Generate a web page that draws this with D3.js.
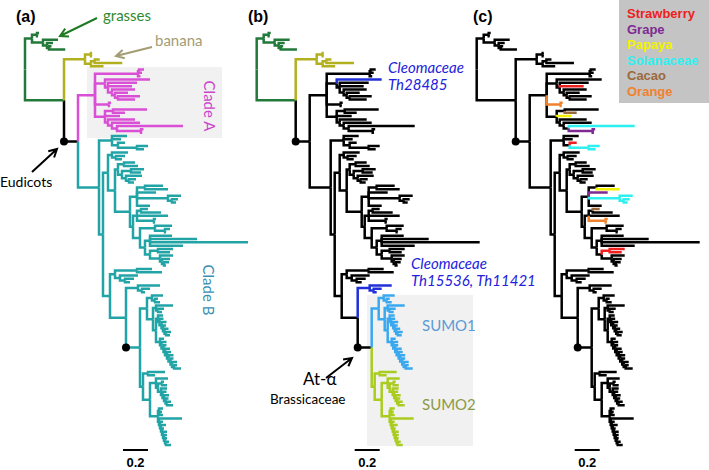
<!DOCTYPE html>
<html><head><meta charset="utf-8">
<script src="https://cdn.jsdelivr.net/npm/d3@7"></script>
<style>body{margin:0;background:#fff} svg{display:block}</style>
</head><body>
<svg id="chart" width="709" height="470"></svg>
<script>
// ---------- DATA (branch lengths in substitutions/site) ----------
const grasses = "((g1:0.016,g2:0.008):0.04,(g3:0.12,(g4:0.048,(g5:0.02,g6:0.13):0.016):0.032):0.088)";
const banana  = "((b1:0.008,b2:0.008):0.048,((b3:0.04,b4:0.22):0.03,b5:0.1):0.048)";
const cladeA  = "(((a1:0.04,a2:0.024):0.008,a3:0.02):0.344,(C28485:0.36,(a5:0.232,STR:0.192,(a7:0.184,(a8:0.104,(a9:0.176,a10:0.136):0.024):0.024):0.032):0.024):0.08,(a11:0.016,a12:0.008)ORA:0.112,((a13:0.272,CAC:0.096):0.064,PAP:0.12,(a16:0.216,(a17:0.224,(SOL:0.528,(a19:0.02,a20:0.01)GRP:0.192):0.04):0.032):0.024):0.08)";
const bTop    = "(c1:0.12,c2:0.072,(STR:0.056,(c4:0.088,c5:0.056)SOL:0.152):0.048)";
const bU1     = "(u1:0.128,(u2:0.072,u3:0.048):0.032)";
const bU2a    = "((u4:0.088,u5:0.112):0.048,((u6:0.104,u7:0.08):0.072,(u8:0.128,(u9:0.056,u10:0.04):0.024):0.032):0.032)";
const bU3a    = "((u11:0.144,PAP:0.184):0.064,GRP:0.152,(u12:0.104,(u13:0.048,u14:0.032):0.032)SOL:0.248,u15:0.104)";
const bV1     = "((CAC:0.056,u17:0.16):0.032,u18:0.248,(u19:0.016,u20:0.008)ORA:0.136)";
const bV2a    = "(u21:0.136,(u22:0.04,u23:0.008):0.08)";
const bV3a    = "(u24:0.176,u25:0.376,u26:0.784,u27:0.264)";
const bV3b    = "((u28:0.12,u29:0.096)STR:0.064,(u30:0.104,(u31:0.064,(u32:0.04,u33:0.016):0.016):0.016):0.08)";
const bFtop   = "((f1:0.12,f2:0.2):0.176,(f3:0.144,(f4:0.072,f5:0.04):0.04):0.04)";
const cleo    = "(k1:0.176,(k2:0.064,k3:0.024):0.032)";
const sumo1a  = "(s1:0.088,(s2:0.024,s3:0.04):0.024)";
const sumo1x  = "(s4:0.136,(s5:0.048,s6:0.032):0.016)";
const sumo1y1 = "(s7:0.04,(s8:0.032,(s9:0.04,(s10:0.024,(s11:0.032,(s12:0.04,s13:0.032):0.012):0.012):0.012):0.016):0.012)";
const sumo1y2 = "(s14:0.032,(s15:0.04,(s16:0.024,(s17:0.04,(s18:0.032,(s19:0.04,(s20:0.024,(s21:0.04,(s22:0.024,s23:0.056):0.016):0.012):0.016):0.012):0.016):0.012):0.016):0.012)";
const sumo2a  = "(t1:0.136,t2:0.056)";
const sumo2c  = "(t3:0.096,((t4:0.016,t5:0.04):0.032,(t6:0.048,(t7:0.032,(t8:0.04,(t9:0.024,(t10:0.032,t11:0.048):0.012):0.012):0.012):0.012):0.024):0.016)";
const sumo2d  = "((t12:0.032,(t13:0.016,t14:0.024):0.008):0.008,(t15:0.184,(t16:0.024,(t17:0.04,(t18:0.016,(t19:0.032,(t20:0.024,(t21:0.016,(t22:0.024,t23:0.04):0.008):0.008):0.008):0.008):0.008):0.008):0.008):0.008)";

const legendNames  = ["Strawberry","Grape","Papaya","Solanaceae","Cacao","Orange"];
const legendTags   = ["STR","GRP","PAP","SOL","CAC","ORA"];
const legendColors = ["#ee2020","#7f2a92","#f2f200","#2ef0f0","#9a6a3c","#f0822e"];
const scaleBarValue = 0.2;

// ---------- assemble tree ----------
const bU = `(${bU1}:0.032,(${bU2a}:0.024,(${bU3a}:0.056,(${bV1}:0.032,(${bV2a}:0.12,(${bV3a}:0.04,${bV3b}:0.04):0.04):0.056):0.024):0.12):0.056)`;
const sumo1 = `(${sumo1a}:0.04,(${sumo1x}:0.024,(${sumo1y1}:0.016,${sumo1y2}:0.032):0.024):0.048)`;
const sumo2 = `(${sumo2a}:0.04,(${sumo2c}:0.048,${sumo2d}:0.064):0.056)`;
const newick = `(${grasses}GRASSES:0.056,(${banana}BANANA:0.168,(${cladeA}CLADEA:0.136,(${bTop}:0.104,(${bU}:0.04,(${bFtop}:0.04,(${cleo}CLEO:0.096,(${sumo1}SUMO1:0.056,${sumo2}SUMO2:0.024)H:0.112)G:0.128)F:0.056)D:0.032)CLADEB:0.168)E:0.112)R2:0.312)ROOT`;

function parseNewick(str) {
  const s = str.replace(/\s+/g, "");
  let i = 0;
  function node() {
    const n = {name: "", length: 0};
    if (s[i] === "(") {
      i++; n.children = [];
      for (;;) {
        n.children.push(node());
        if (s[i] === ",") { i++; continue; }
        if (s[i] === ")") { i++; break; }
        throw new Error("bad newick at " + i);
      }
    }
    let name = "";
    while (i < s.length && !",():;".includes(s[i])) name += s[i++];
    n.name = name;
    if (s[i] === ":") { i++; let num = ""; while (i < s.length && !",();".includes(s[i])) num += s[i++]; n.length = +num; }
    return n;
  }
  return node();
}

const root = d3.hierarchy(parseNewick(newick));
root.each(d => { d.dist = d.parent ? d.parent.dist + d.data.length : 0; });
let leafIdx = 0;
root.eachAfter(d => {
  if (!d.children) d.row = leafIdx++;
  else d.row = (d.children[0].row + d.children[d.children.length - 1].row) / 2;
});
const nLeaves = leafIdx;

// ---------- colours ----------
const C = {green:"#22793a", olive:"#b3b020", magenta:"#d94fd6", teal:"#22a4a6", black:"#000",
           blue:"#2030d8", lblue:"#3aa8ee", ygreen:"#a9cc1e"};
const tagColor = {
  a: {ROOT:C.green, GRASSES:C.green, R2:C.green, BANANA:C.olive, E:C.black, CLADEA:C.magenta, CLADEB:C.teal},
  b: {ROOT:C.green, GRASSES:C.green, R2:C.green, BANANA:C.olive, E:C.black, C28485:C.blue, CLEO:C.blue, H:C.black, SUMO1:C.lblue, SUMO2:C.ygreen},
  c: Object.fromEntries(legendTags.map((t, k) => [t, legendColors[k]]))
};

const svg = d3.select("#chart");
const yScale = d3.scaleLinear().domain([0, nLeaves - 1]).range([33, 445]);

// grey highlight boxes
svg.append("rect").attr("x", 87).attr("y", 67).attr("width", 135).attr("height", 71).attr("fill", "#f1f1f1");
svg.append("rect").attr("x", 367).attr("y", 295).attr("width", 106).attr("height", 151).attr("fill", "#f1f1f1");

function drawPanel(key, x0) {
  const xScale = d3.scaleLinear().domain([0, 1]).range([x0, x0 + 125]);
  const tags = tagColor[key];
  root.each(d => {
    const t = tags[d.data.name];
    d["col_" + key] = t || (d.parent ? d.parent["col_" + key] : C.black);
  });
  const g = svg.append("g");
  const nodes = root.descendants().filter(d => d.parent);
  nodes.sort((p, q) => (p["col_" + key] === C.black ? 0 : 1) - (q["col_" + key] === C.black ? 0 : 1));
  g.selectAll("path").data(nodes).join("path")
    .attr("d", d => `M${xScale(d.parent.dist)},${yScale(d.parent.row)}V${yScale(d.row)}H${xScale(d.dist)}`)
    .attr("fill", "none").attr("stroke", d => d["col_" + key])
    .attr("stroke-width", 2.5).attr("stroke-linecap", "butt").attr("stroke-linejoin", "miter");
  const dots = root.descendants().filter(d => d.data.name === "E" || d.data.name === "H");
  g.selectAll("circle").data(dots).join("circle")
    .attr("cx", d => xScale(d.parent.dist)).attr("cy", d => yScale(d.row)).attr("r", 4).attr("fill", "#000");
  const sb0 = 0.784;
  g.append("line").attr("x1", xScale(sb0)).attr("x2", xScale(sb0 + scaleBarValue))
    .attr("y1", 450).attr("y2", 450).attr("stroke", "#000").attr("stroke-width", 2);
  g.append("text").attr("x", xScale(sb0 + scaleBarValue / 2)).attr("y", 467).attr("text-anchor", "middle")
    .attr("font-family", "Liberation Sans, Arial, sans-serif").attr("font-weight", "bold").attr("font-size", 13)
    .text(String(scaleBarValue));
  return xScale;
}
drawPanel("a", 25);
drawPanel("b", 256.7);
drawPanel("c", 476.7);

// ---------- annotations ----------
const sans = "Lato, 'Open Sans', sans-serif";
function txt(x, y, s, opts = {}) {
  const t = svg.append("text").attr("x", x).attr("y", y).text(s)
    .attr("font-family", opts.family || sans).attr("font-size", opts.size || 15)
    .attr("fill", opts.fill || "#000");
  if (opts.bold) t.attr("font-weight", "bold");
  if (opts.italic) t.attr("font-style", "italic");
  if (opts.rotate) t.attr("transform", `rotate(90,${x},${y})`).attr("text-anchor", "middle");
  return t;
}
function arrow(x1, y1, x2, y2, col, w = 2) {
  const a = Math.atan2(y2 - y1, x2 - x1), L = 9, sp = 0.5;
  svg.append("path").attr("d",
    `M${x1},${y1}L${x2},${y2}M${x2 - L * Math.cos(a - sp)},${y2 - L * Math.sin(a - sp)}L${x2},${y2}L${x2 - L * Math.cos(a + sp)},${y2 - L * Math.sin(a + sp)}`)
    .attr("fill", "none").attr("stroke", col).attr("stroke-width", w).attr("stroke-linejoin", "miter");
}
const bold = "Liberation Sans, Arial, sans-serif";
txt(16, 22, "(a)", {family: bold, bold: true, size: 16});
txt(248, 22, "(b)", {family: bold, bold: true, size: 16});
txt(473, 22, "(c)", {family: bold, bold: true, size: 16});

txt(103, 21, "grasses", {fill: "#2f8a2f", size: 15});
arrow(97, 18, 60, 36, "#1f7a22");
txt(155, 46, "banana", {fill: "#a39d74", size: 15});
arrow(152, 47, 116, 56, "#a39d74");
txt(0, 187, "Eudicots", {size: 14});
arrow(32, 172, 57, 149, "#000");
txt(204, 106, "Clade A", {fill: "#cc44cc", size: 15, rotate: true});
txt(203, 290, "Clade B", {fill: "#3a8fb2", size: 15, rotate: true});

txt(388, 73, "Cleomaceae", {fill: "#2222dd", italic: true, size: 15});
txt(388, 90, "Th28485", {fill: "#2222dd", italic: true, size: 15});
txt(411, 269, "Cleomaceae", {fill: "#2222dd", italic: true, size: 15});
txt(411, 286, "Th15536, Th11421", {fill: "#2222dd", italic: true, size: 15});
txt(422, 331, "SUMO1", {fill: "#5b9bd5", size: 15});
txt(422, 410, "SUMO2", {fill: "#8b9a46", size: 15});
txt(303, 385, "At-α", {size: 17});
txt(270, 404, "Brassicaceae", {size: 13.5});
arrow(326, 378, 352, 358, "#000");

// legend
svg.append("rect").attr("x", 619).attr("y", 0).attr("width", 90).attr("height", 103).attr("fill", "#c4c4c4");
legendNames.forEach((n, k) => txt(627, 18 + k * 15.6, n, {family: bold, bold: true, size: 13, fill: legendColors[k]}));
</script>
</body></html>
